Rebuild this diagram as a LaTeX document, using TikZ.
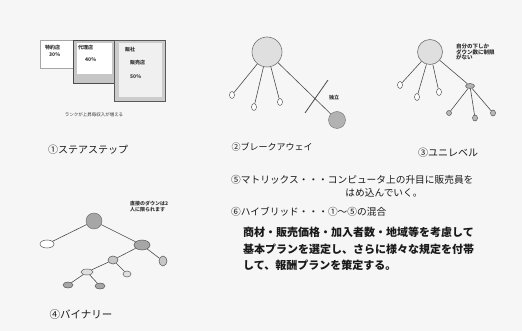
\documentclass[tikz,border=0pt]{standalone}
\usepackage{fontspec}
\setmainfont{Noto Sans CJK JP}
\usetikzlibrary{shapes.geometric}
\begin{document}
\begin{tikzpicture}[x=1pt,y=-1pt,
  ln/.style={draw=black!70, line width=0.6pt},
  dot/.style={ellipse, draw=black!65, line width=0.5pt, inner sep=0pt},
  tiny/.style={font=\fontsize{5}{5.5}\selectfont\bfseries, text=black!80, inner sep=0pt, align=left},
  captxt/.style={font=\fontsize{10}{12}\selectfont, text=black!90, inner sep=0pt},
  txt/.style={font=\fontsize{9.7}{12}\selectfont, text=black!90, inner sep=0pt},
  body/.style={font=\fontsize{11}{13}\selectfont\bfseries, text=black!90, inner sep=0pt},
  stepbox/.style={rectangle, anchor=north west, inner sep=0pt, line width=0.6pt},
]
\fill[gray!7] (0,0) rectangle (522,331);
\useasboundingbox (0,0) rectangle (522,331);

% ---- 1 stair step
\node[stepbox, draw=gray!70, fill=white, minimum width=33pt, minimum height=28pt] (s1) at (40,40) {};
\node[stepbox, draw=black!70, fill=gray!45, minimum width=42pt, minimum height=43pt] (s2) at (73,40) {};
\fill[white] (77,43) rectangle (112,74);
\node[stepbox, draw=black!65, fill=gray!40, minimum width=51pt, minimum height=61pt] (s3) at (114,40) {};
\fill[gray!12] (119,43) rectangle (162,97);
\node[tiny, anchor=west] (t1a) at (45,48) {特約店};
\node[tiny, anchor=west] (t1b) at (49,55) {30\%};
\node[tiny, anchor=west] (t2a) at (78,48) {代理店};
\node[tiny, anchor=west] (t2b) at (85,60) {40\%};
\node[tiny, anchor=west] (t3a) at (125,50) {販社};
\node[tiny, anchor=west] (t3b) at (130,63) {販売店};
\node[tiny, anchor=west] (t3c) at (130,77) {50\%};
\node[tiny, font=\fontsize{4.5}{5}\selectfont] (t1c) at (94,115) {ランクが上昇毎収入が増える};
\node[captxt] (c1) at (88,150) {①ステアステップ};

% ---- 2 break away
\node[circle, draw=black!55, fill=gray!25, line width=0.6pt, minimum size=30pt, inner sep=0pt] (b0) at (267,52) {};
\node[dot, fill=white, minimum width=5pt, minimum height=7pt] (b1) at (232,95) {};
\node[dot, fill=white, minimum width=5pt, minimum height=7pt] (b2) at (254,107) {};
\node[dot, fill=white, minimum width=5pt, minimum height=7pt] (b3) at (280,102) {};
\node[circle, draw=black!55, fill=gray!60, minimum size=17pt, inner sep=0pt] (b4) at (337,120) {};
\draw[ln] (b0) -- (b1);
\draw[ln] (b0) -- (b2);
\draw[ln] (b0) -- (b3);
\draw[ln] (b0) -- (b4);
\coordinate (x1) at (305,113);
\coordinate (x2) at (328,80);
\draw[ln, line width=0.8pt] (x1) -- (x2);
\node[tiny, anchor=west] (b5) at (329,98) {独立};
\node[captxt, font=\fontsize{9}{11}\selectfont] (c2) at (272,147) {②ブレークアウェイ};

% ---- 3 uni level
\node[circle, draw=black!55, fill=gray!25, line width=0.6pt, minimum size=25pt, inner sep=0pt] (u0) at (430,52) {};
\node[dot, fill=white, minimum width=5pt, minimum height=7pt] (u1) at (400,85) {};
\node[dot, fill=white, minimum width=5pt, minimum height=7pt] (u2) at (417,97) {};
\node[dot, fill=white, minimum width=5pt, minimum height=7pt] (u3) at (439,92) {};
\node[dot, fill=gray!60, minimum width=9pt, minimum height=5pt] (u4) at (470,86) {};
\node[dot, fill=gray!55, minimum width=5pt, minimum height=5pt] (u5) at (449,113) {};
\node[dot, fill=gray!55, minimum width=5pt, minimum height=6pt] (u6) at (475,118) {};
\node[dot, fill=gray!55, minimum width=5pt, minimum height=6pt] (u7) at (493,113) {};
\draw[ln] (u0) -- (u1);
\draw[ln] (u0) -- (u2);
\draw[ln] (u0) -- (u3);
\draw[ln] (u0) -- (u4);
\draw[ln] (u4) -- (u5);
\draw[ln] (u4) -- (u6);
\draw[ln] (u4) -- (u7);
\node[tiny, anchor=north west, font=\fontsize{5.5}{5.5}\selectfont\bfseries] (u8) at (456,44) {自分の下しか\\ダウン数に制限\\がない};
\node[captxt] (c3) at (448,153) {③ユニレベル};

% ---- 4 binary
\node[circle, draw=black!60, fill=gray!70, minimum size=16pt, inner sep=0pt] (n0) at (94,221) {};
\node[dot, fill=white, minimum width=14pt, minimum height=8pt] (n1) at (47,244) {};
\node[dot, fill=gray!70, minimum width=16pt, minimum height=10pt] (n2) at (142,245) {};
\node[dot, fill=gray!45, minimum width=10pt, minimum height=8pt] (n3) at (113,260) {};
\node[dot, fill=gray!45, minimum width=8pt, minimum height=10pt] (n4) at (163,261) {};
\node[dot, fill=gray!25, minimum width=12pt, minimum height=6pt] (n5) at (87,272) {};
\node[dot, fill=gray!25, minimum width=8pt, minimum height=6pt] (n6) at (127,274) {};
\node[dot, fill=gray!70, minimum width=10pt, minimum height=6pt] (n7) at (68,285) {};
\node[dot, fill=gray!70, minimum width=10pt, minimum height=6pt] (n8) at (100,286) {};
\draw[ln] (n0) -- (n1);
\draw[ln] (n0) -- (n2);
\draw[ln] (n2) -- (n3);
\draw[ln] (n2) -- (n4);
\draw[ln] (n3) -- (n5);
\draw[ln] (n3) -- (n6);
\draw[ln] (n5) -- (n7);
\draw[ln] (n5) -- (n8);
\node[tiny, anchor=north west, font=\fontsize{5}{5.5}\selectfont\bfseries] (n9) at (130,201) {直接のダウンは2\\人に限られます};
\node[captxt, font=\fontsize{10.5}{12}\selectfont] (c4) at (81,315) {④バイナリー};

% ---- 5, 6 text
\node[txt, anchor=west] (m1) at (231,180) {⑤マトリックス・・・コンピュータ上の升目に販売員を};
\node[txt] (m2) at (384,193) {はめ込んでいく。};
\node[txt, anchor=west] (h1) at (231,212) {⑥ハイブリッド・・・①～⑤の混合};
\node[body, anchor=west] (h2) at (243,232) {商材・販売価格・加入者数・地域等を考慮して};
\node[body, anchor=west] (h3) at (243,249) {基本プランを選定し、さらに様々な規定を付帯};
\node[body, anchor=west] (h4) at (243,265) {して、報酬プランを策定する。};
\end{tikzpicture}
\end{document}
